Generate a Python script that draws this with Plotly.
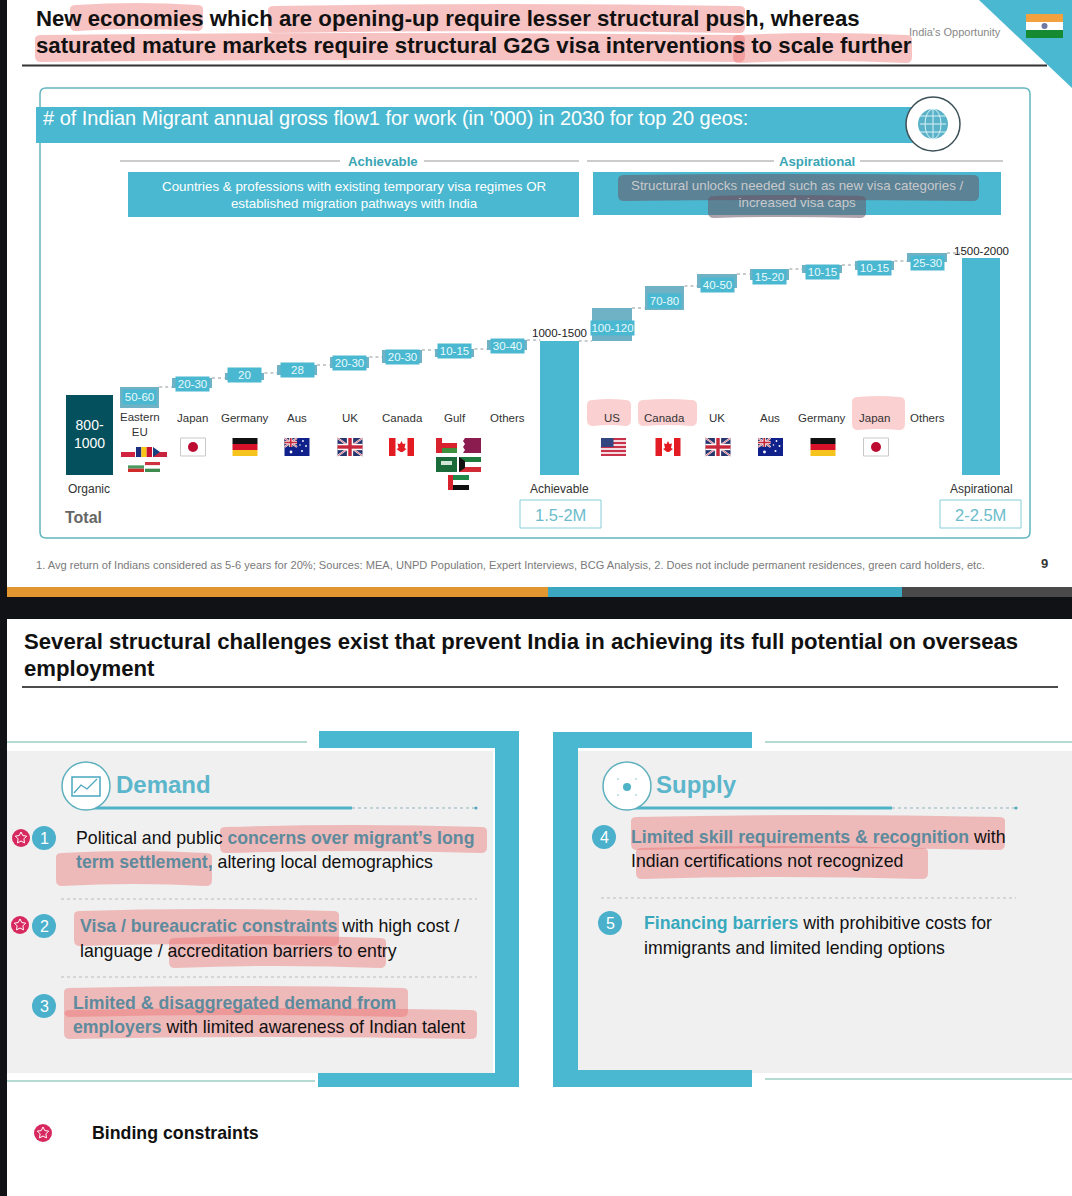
import math
import plotly.graph_objects as go

# ---------- chart data ----------
categories = ["Organic", "Eastern<br>EU", "Japan", "Germany", "Aus", "UK", "Canada", "Gulf", "Others",
              "Achievable", "US", "Canada", "UK", "Aus", "Germany", "Japan", "Others", "Aspirational"]
bar_base = [0, 670, 870, 950, 1000, 1070, 1120, 1180, 1250, 0, 1340, 1650, 1870, 1950, 2020, 2050, 2130, 0]
bar_height = [800, 210, 100, 70, 100, 110, 130, 80, 100, 1340, 330, 240, 140, 110, 80, 90, 90, 2170]
value_labels = ["800-<br>1000", "50-60", "20-30", "20", "28", "20-30", "20-30", "10-15", "30-40",
                "1000-1500", "100-120", "70-80", "40-50", "15-20", "10-15", "10-15", "25-30", "1500-2000"]
label_levels = [0, 780, 910, 1000, 1050, 1120, 1180, 1240, 1290, 1420, 1470, 1740, 1900, 1980, 2030, 2070, 2120, 2240]
totals = ["1.5-2M", "2-2.5M"]

TEAL = "#4ab8d0"
DELTA = "#6fb2c5"
DARK = "#04505c"
FONT = "Liberation Sans"
PINK = "rgba(236,110,110,0.42)"

W, H = 1072, 1196
PX0, PXSTEP = 87.0, 52.5   # pixel centre of first bar, spacing
AX_L, AX_R, AX_T, AX_B = 40, 1030, 235, 475

shapes, annos = [], []


def rect(x0, y0, x1, y1, fill=None, line=None, lw=1, layer="below", dash=None):
    s = dict(type="rect", xref="x", yref="y", x0=x0, y0=y0, x1=x1, y1=y1, layer=layer,
             fillcolor=fill if fill else "rgba(0,0,0,0)",
             line=dict(color=line if line else "rgba(0,0,0,0)", width=lw if line else 0))
    if dash:
        s["line"]["dash"] = dash
    shapes.append(s)


def line(x0, y0, x1, y1, color, lw=1, dash=None, layer="below"):
    s = dict(type="line", xref="x", yref="y", x0=x0, y0=y0, x1=x1, y1=y1, layer=layer,
             line=dict(color=color, width=lw))
    if dash:
        s["line"]["dash"] = dash
    shapes.append(s)


def circle(cx, cy, r, fill=None, ln=None, lw=1, layer="below"):
    shapes.append(dict(type="circle", xref="x", yref="y", x0=cx - r, y0=cy - r, x1=cx + r, y1=cy + r, layer=layer,
                       fillcolor=fill if fill else "rgba(0,0,0,0)",
                       line=dict(color=ln if ln else "rgba(0,0,0,0)", width=lw if ln else 0)))


def path(d, fill=None, ln=None, lw=1, layer="below"):
    shapes.append(dict(type="path", xref="x", yref="y", path=d, layer=layer,
                       fillcolor=fill if fill else "rgba(0,0,0,0)",
                       line=dict(color=ln if ln else "rgba(0,0,0,0)", width=lw if ln else 0)))


def text(x, y, s, size=12, color="#222", anchor="left", bold=False, **kw):
    annos.append(dict(xref="x", yref="y", x=x - 1 if anchor == "left" else x, y=y,
                      text=f"<b>{s}</b>" if bold else s, showarrow=False,
                      xanchor=anchor, yanchor="middle", align=anchor,
                      font=dict(family=FONT, size=size, color=color), borderpad=0, **kw))


def blob(x0, y0, x1, y1, color=PINK, wob=2, c=6):
    m = (x0 + x1) / 2
    d = (f"M{x0 + c},{y0 + wob} Q{m},{y0 - wob} {x1 - c},{y0 + wob} Q{x1},{y0 + wob} {x1},{y0 + c} "
         f"L{x1},{y1 - c} Q{x1},{y1} {x1 - c},{y1} Q{m},{y1 - 2 * wob} {x0 + c},{y1} Q{x0},{y1} {x0},{y1 - c} "
         f"L{x0},{y0 + c} Q{x0},{y0 + wob} {x0 + c},{y0 + wob} Z")
    path(d, fill=color, layer="above")


def star(cx, cy, r):
    pts = []
    for i in range(10):
        a = -math.pi / 2 + i * math.pi / 5
        rr = r if i % 2 == 0 else r * 0.5
        pts.append((cx + rr * math.cos(a), cy + rr * math.sin(a)))
    d = "M" + " L".join(f"{a:.1f},{b:.1f}" for a, b in pts) + " Z"
    circle(cx, cy, 9, fill="#d7295f")
    path(d, ln="white", lw=1)


# ---------- flags ----------
def hstripes(x0, y0, x1, y1, cols):
    n = len(cols)
    h = (y1 - y0) / n
    for i, c in enumerate(cols):
        rect(x0, y0 + i * h, x1, y0 + (i + 1) * h, fill=c)


def vstripes(x0, y0, x1, y1, cols):
    n = len(cols)
    w = (x1 - x0) / n
    for i, c in enumerate(cols):
        rect(x0 + i * w, y0, x0 + (i + 1) * w, y1, fill=c)


def f_japan(cx):
    rect(cx - 12.5, 438, cx + 12.5, 456, fill="white", line="#c9c9c9")
    circle(cx, 447, 5, fill="#bc0a32")


def f_germany(cx):
    hstripes(cx - 12.5, 438, cx + 12.5, 456, ["#111", "#d8112a", "#f6c41c"])


def union(x0, y0, x1, y1):
    rect(x0, y0, x1, y1, fill="#27356e")
    line(x0, y0, x1, y1, "white", 2)
    line(x0, y1, x1, y0, "white", 2)
    line(x0, y0, x1, y1, "#c8283c", 0.7)
    line(x0, y1, x1, y0, "#c8283c", 0.7)
    mx, my = (x0 + x1) / 2, (y0 + y1) / 2
    d = (x1 - x0) / 8
    rect(mx - d, y0, mx + d, y1, fill="white")
    rect(x0, my - d, x1, my + d, fill="white")
    e = d * 0.55
    rect(mx - e, y0, mx + e, y1, fill="#c8283c")
    rect(x0, my - e, x1, my + e, fill="#c8283c")


def f_uk(cx):
    union(cx - 12.5, 438, cx + 12.5, 456)


def f_aus(cx):
    rect(cx - 12.5, 438, cx + 12.5, 456, fill="#10218b")
    union(cx - 12.5, 438, cx, 447)
    for dx, dy, r in [(-6, 452, 1.4), (6, 441, 0.9), (9, 446, 0.9), (5, 451, 1), (3, 445, 0.8)]:
        circle(cx + dx, dy, r, fill="white")


def f_canada(cx):
    rect(cx - 12.5, 438, cx + 12.5, 456, fill="white")
    rect(cx - 12.5, 438, cx - 6, 456, fill="#e31c23")
    rect(cx + 6, 438, cx + 12.5, 456, fill="#e31c23")
    d = (f"M{cx},{441} L{cx + 1.5},{444} L{cx + 4},{443.5} L{cx + 3},{448} L{cx + 5},{449} "
         f"L{cx + 1},{452} L{cx - 1},{452} L{cx - 5},{449} L{cx - 3},{448} L{cx - 4},{443.5} L{cx - 1.5},{444} Z")
    path(d, fill="#e31c23")


def f_us(cx):
    x0, x1 = cx - 12.5, cx + 12.5
    hstripes(x0, 438, x1, 456, ["#c8324a", "#f4dbe0"] * 4 + ["#c8324a"])
    rect(x0, 438, cx, 447, fill="#34467f")


# ---------- page backgrounds ----------
rect(0, 0, 7, H, fill="#101216")
path("M979,0 L1072,0 L1072,88 Z", fill=TEAL)
hstripes(1026, 14, 1063, 38, ["#f2a13e", "white", "#168a32"])
circle(1044.5, 26, 3, fill="#6f78a0")
line(22, 65.5, 1047, 65.5, "#333", 2)
path("M46,88 L1024,88 Q1030,88 1030,94 L1030,532 Q1030,538 1024,538 L46,538 Q40,538 40,532 L40,94 Q40,88 46,88 Z",
     fill="white", ln="#62b5bf", lw=1.5)

for cx_, f in [(193, f_japan), (245, f_germany), (297, f_aus), (350, f_uk), (401.5, f_canada),
               (613.5, f_us), (668, f_canada), (718, f_uk), (770.5, f_aus), (823, f_germany), (876, f_japan)]:
    f(cx_)

# Eastern EU flags
hstripes(121, 447, 135, 457, ["white", "#d3223e"])
vstripes(136, 447, 152, 457, ["#1c2f7c", "#f6c518", "#c9122f"])
hstripes(153, 447, 167, 457, ["white", "#c8243e"])
path("M153,447 L160,452 L153,457 Z", fill="#16407f")
hstripes(128, 462, 144, 472, ["white", "#4a9a62", "#cf2b2b"])
hstripes(145, 462, 160, 472, ["#ce3240", "white", "#3f8a4f"])
# Gulf flags
hstripes(436, 438, 457, 453, ["white", "#d8232e", "#3e8f3e"])
rect(436, 438, 442, 453, fill="#d8232e")
rect(459, 438, 481, 453, fill="#8a1c50")
path("M459,438 L465,438 L463,441 L465,444 L463,447 L465,450 L463,453 L459,453 Z", fill="white")
rect(436, 457, 457, 472, fill="#1a6b3a")
rect(441, 461, 452, 465, fill="#cfe5d5")
rect(459, 457, 481, 472, fill="white")
rect(459, 457, 481, 462, fill="#1f7a3e")
rect(459, 467, 481, 472, fill="#d22b35")
path("M459,457 L465,461 L465,468 L459,472 Z", fill="#111")
hstripes(448, 475, 469, 490, ["#1f8a4a", "white", "#111"])
rect(448, 475, 453, 490, fill="#d8232e")

# ---------- top slide ----------
text(36, 18, "New economies which are opening-up require lesser structural push, whereas", 22.2, "#111", bold=True)
text(36, 45, "saturated mature markets require structural G2G visa interventions to scale further", 22.2, "#111", bold=True)
text(909, 31.5, "India's Opportunity", 11, "#888")
rect(36, 107, 932, 143, fill=TEAL)
circle(933, 124, 27, fill="white", ln="#3d5158", lw=1.5)
circle(933, 124, 15, fill="#5ab2c8")
for dy in (-8, 0, 8):
    line(920, 124 + dy, 946, 124 + dy, "#d7f2f7", 1)
line(933, 109, 933, 139, "#d7f2f7", 1)
shapes.append(dict(type="circle", xref="x", yref="y", x0=925, y0=109, x1=941, y1=139, layer="below",
                   line=dict(color="#d7f2f7", width=1), fillcolor="rgba(0,0,0,0)"))
text(43, 118, "# of Indian Migrant annual gross flow1 for work (in '000) in 2030 for top 20 geos:", 19.95, "white")

line(120, 161, 340, 161, "#999", 1)
line(424, 161, 579, 161, "#999", 1)
line(587, 161, 774, 161, "#999", 1)
line(860, 161, 1003, 161, "#999", 1)
text(383, 161.5, "Achievable", 13.2, "#3aa5b5", "center", bold=True)
text(817, 161.5, "Aspirational", 13.2, "#3aa5b5", "center", bold=True)
rect(128, 172, 579, 217, fill=TEAL)
rect(593, 172, 1001, 215, fill=TEAL)
text(354, 194.5, "Countries &amp; professions with existing temporary visa regimes OR<br>established migration pathways with India",
     13.35, "white", "center")
text(797, 193.5, "Structural unlocks needed such as new visa categories /<br>increased visa caps", 13.35, "#c9c9cc", "center")
blob(618, 174, 979, 201, color="rgba(105,85,100,0.55)", wob=1)
blob(708, 195, 866, 218, color="rgba(105,85,100,0.55)", wob=1)

rect(520, 500, 601, 528, fill="white", line="#86cfd8")
rect(940, 500, 1021, 528, fill="white", line="#86cfd8")
text(560.5, 514.5, totals[0], 16.5, "#6cbccc", "center")
text(980.5, 514.5, totals[1], 16.5, "#6cbccc", "center")
text(65, 517, "Total", 16, "#666", bold=True)
text(36, 565, "1. Avg return of Indians considered as 5-6 years for 20%; Sources: MEA, UNPD Population, Expert Interviews, BCG Analysis, 2. Does not include permanent residences, green card holders, etc.",
     11.1, "#7a7a7a")
text(1044, 563.5, "9", 13, "#333", "center", bold=True)

for a in [(587, 399, 631, 426), (638, 399, 697, 426), (852, 396, 905, 430)]:
    blob(*a, color="rgba(245,150,150,0.45)", wob=1)

# ---------- strip between slides ----------
rect(7, 587, 548, 597, fill="#e2962f")
rect(548, 587, 902, 597, fill="#3ca7c0")
rect(902, 587, 1072, 597, fill="#4a4a4a")
rect(0, 597, 1072, 619, fill="#101216")

# ---------- second slide ----------
text(24, 641.5, "Several structural challenges exist that prevent India in achieving its full potential on overseas", 22.15, "#111", bold=True)
text(24, 668.5, "employment", 22.15, "#111", bold=True)
line(22, 687, 1058, 687, "#111", 1.5)

rect(7, 751, 493, 1073, fill="#f0f0f0")
path("M319,731 L519,731 L519,1087 L318,1087 L318,1073 L495,1073 L495,748 L319,748 Z", fill=TEAL)
line(7, 742, 307, 742, "#6fb8a8", 1.2)
line(7, 1081, 315, 1081, "#6fb8a8", 1.2)
rect(578, 751, 1072, 1073, fill="#f0f0f0")
path("M553,732 L752,732 L752,748 L578,748 L578,1070 L752,1070 L752,1087 L553,1087 Z", fill=TEAL)
line(765, 742, 1072, 742, "#6fb8a8", 1.2)
line(765, 1079, 1072, 1079, "#6fb8a8", 1.2)

for cx_, tx, name, l1, l2, l3 in [(86, 116, "Demand", 92, 352, 476), (627, 656, "Supply", 634, 892, 1016)]:
    line(l1, 808, l2, 808, "#4fb3c8", 3)
    line(l2, 808, l3, 808, "#8fb6bf", 1, dash="dot")
    circle(l3, 808, 1.5, fill="#4fa9be")
    circle(cx_, 786, 24, fill="white", ln="#5fb0bd", lw=1.5)
    text(tx, 784, name, 24, "#5cb6cb", bold=True)
rect(72, 777, 100, 796, fill="white", line="#4aa6c0", lw=1.5)
path("M74,793 L81,785 L87,789 L97,779", ln="#4aa6c0", lw=1.3)
circle(627, 787, 4, fill="#4fb3c8")
for dx, dy in [(-9, -8), (9, -8), (-9, 8), (9, 8)]:
    circle(627 + dx, 787 + dy, 0.7, fill="#5fb0bd")

line(61, 899, 477, 899, "#bbb", 1, dash="dot")
line(61, 977, 477, 977, "#bbb", 1, dash="dot")
line(601, 898, 1016, 898, "#bbb", 1, dash="dot")

for n, cx_, cy_ in [("1", 44, 838), ("2", 44, 926), ("3", 44, 1006), ("4", 604, 837), ("5", 610, 923)]:
    circle(cx_, cy_, 12, fill="#4ab0cb")
    text(cx_, cy_, n, 16, "white", "center")
star(21, 838, 6)
star(20, 925, 6)
star(43, 1133, 6)
text(92, 1133, "Binding constraints", 17.75, "#111", bold=True)

HL = "#5d8a9c"
BODY = 17.7
text(76, 838, f'Political and public <b><span style="color:{HL}">concerns over migrant’s long</span></b>', BODY, "#111")
text(76, 862, f'<b><span style="color:{HL}">term settlement,</span></b> altering local demographics', BODY, "#111")
text(80, 926, f'<b><span style="color:{HL}">Visa / bureaucratic constraints</span></b> with high cost /', BODY, "#111")
text(80, 951, "language / accreditation barriers to entry", BODY, "#111")
text(73, 1003, f'<b><span style="color:{HL}">Limited &amp; disaggregated demand from</span></b>', BODY, "#111")
text(73, 1027, f'<b><span style="color:{HL}">employers</span></b> with limited awareness of Indian talent', BODY, "#111")
text(631, 837, f'<b><span style="color:{HL}">Limited skill requirements &amp; recognition</span></b> with', BODY, "#111")
text(631, 861, "Indian certifications not recognized", BODY, "#111")
text(644, 923, '<b><span style="color:#38a9bd">Financing barriers</span></b> with prohibitive costs for', BODY, "#111")
text(644, 948, "immigrants and limited lending options", BODY, "#111")

for a in [(70, 3, 203, 31), (268, 4, 745, 33), (35, 33, 745, 62), (733, 33, 912, 63),
          (220, 825, 487, 853), (56, 851, 212, 886), (74, 909, 339, 946), (169, 936, 386, 968),
          (64, 986, 408, 1017), (64, 1008, 477, 1039), (631, 815, 1005, 850), (636, 846, 928, 879)]:
    blob(*a)

# ---------- bars through the library ----------
xs = list(range(len(categories)))
widths = [0.9, 0.75] + [0.76] * 7 + [0.73] + [0.76] * 7 + [0.73]
offsets = [-w / 2 for w in widths]
offsets[0] += 0.05
offsets[-1] += 0.03
colors = [DARK] + [DELTA] * 8 + [TEAL] + [DELTA] * 7 + [TEAL]

fig = go.Figure()
# pixel overlay axes come first so that the chart subplot is drawn above them
fig.add_trace(go.Scatter(x=[0], y=[0], xaxis="x", yaxis="y", mode="markers", marker=dict(size=1, opacity=0),
                         showlegend=False, hoverinfo="skip"))
fig.add_trace(go.Bar(x=xs, y=bar_height, base=bar_base, width=widths, offset=offsets, xaxis="x2", yaxis="y2",
                     marker=dict(color=colors, line=dict(width=0)), showlegend=False, hoverinfo="skip"))

cx, cy = [], []
for i in range(1, len(xs) - 1):
    top = bar_base[i] + bar_height[i]
    cx += [xs[i] + widths[i] / 2, xs[i + 1] - widths[i + 1] / 2, None]
    cy += [top, top, None]
fig.add_trace(go.Scatter(x=cx, y=cy, xaxis="x2", yaxis="y2", mode="lines",
                         line=dict(color="#8e9a9e", width=1.2, dash="3px,3px"),
                         showlegend=False, hoverinfo="skip"))

for i, cat in enumerate(categories):
    lbl = value_labels[i]
    if i == 0:
        annos.append(dict(xref="x2", yref="y2", x=xs[i] + 0.05, y=bar_height[i] / 2 + 15, text=lbl, showarrow=False,
                          font=dict(family=FONT, size=14, color="white"), align="center"))
        annos.append(dict(xref="x2", yref="y", x=xs[i] + 0.03, y=488.5, text=cat, showarrow=False,
                          font=dict(family=FONT, size=12, color="#333")))
    elif i in (9, 17):
        annos.append(dict(xref="x2", yref="y2", x=xs[i] + (0.03 if i == 17 else 0), y=label_levels[i], text=lbl, showarrow=False,
                          font=dict(family=FONT, size=11.5, color="#222")))
        annos.append(dict(xref="x2", yref="y", x=xs[i] + (0.03 if i == 17 else 0), y=488.5, text=cat, showarrow=False,
                          font=dict(family=FONT, size=12, color="#333")))
    else:
        annos.append(dict(xref="x2", yref="y2", x=xs[i], y=label_levels[i], text=lbl, showarrow=False,
                          width=43 if len(lbl) > 5 else 33, height=14,
                          bgcolor=TEAL, borderpad=0, font=dict(family=FONT, size=11.5, color="#e8fafd")))
        annos.append(dict(xref="x2", yref="y", x=xs[i], y=418 if i != 1 else 424.5, text=cat, showarrow=False,
                          font=dict(family=FONT, size=11.5, color="#333"), align="center"))

fig.update_layout(
    width=W, height=H, margin=dict(l=0, r=0, t=0, b=0), paper_bgcolor="white", plot_bgcolor="rgba(0,0,0,0)",
    showlegend=False, shapes=shapes, annotations=annos, bargap=0,
    xaxis=dict(domain=[0, 1], range=[0, W], visible=False, anchor="y", fixedrange=True),
    yaxis=dict(domain=[0, 1], range=[H, 0], visible=False, anchor="x", fixedrange=True),
    xaxis2=dict(domain=[AX_L / W, AX_R / W], range=[(AX_L - PX0) / PXSTEP, (AX_R - PX0) / PXSTEP], visible=False,
                anchor="y2", fixedrange=True),
    yaxis2=dict(domain=[1 - AX_B / H, 1 - AX_T / H], range=[0, (AX_B - AX_T) * 10], visible=False, anchor="x2",
                fixedrange=True),
)
fig.write_html("out.html", config=dict(displayModeBar=False),
               post_script="document.body.style.margin='0';document.body.style.overflow='hidden';")
